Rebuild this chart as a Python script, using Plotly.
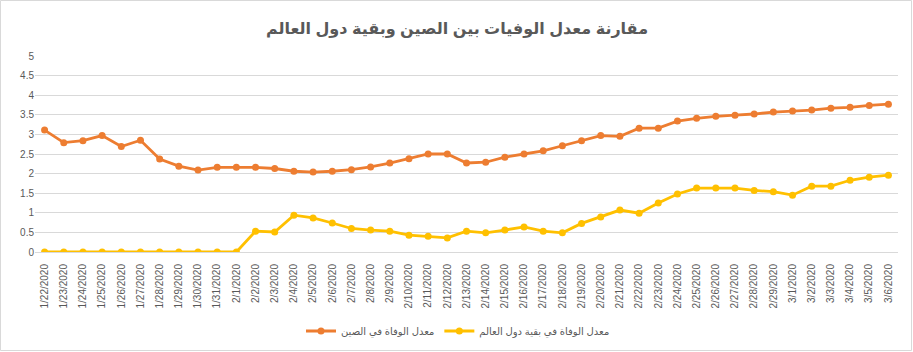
import plotly.graph_objects as go

dates = ["1/22/2020", "1/23/2020", "1/24/2020", "1/25/2020", "1/26/2020", "1/27/2020",
         "1/28/2020", "1/29/2020", "1/30/2020", "1/31/2020", "2/1/2020", "2/2/2020",
         "2/3/2020", "2/4/2020", "2/5/2020", "2/6/2020", "2/7/2020", "2/8/2020",
         "2/9/2020", "2/10/2020", "2/11/2020", "2/12/2020", "2/13/2020", "2/14/2020",
         "2/15/2020", "2/16/2020", "2/17/2020", "2/18/2020", "2/19/2020", "2/20/2020",
         "2/21/2020", "2/22/2020", "2/23/2020", "2/24/2020", "2/25/2020", "2/26/2020",
         "2/27/2020", "2/28/2020", "2/29/2020", "3/1/2020", "3/2/2020", "3/3/2020",
         "3/4/2020", "3/5/2020", "3/6/2020"]

china = [3.11, 2.79, 2.84, 2.97, 2.69, 2.85, 2.37, 2.19, 2.09, 2.16, 2.16, 2.16,
         2.13, 2.06, 2.04, 2.06, 2.10, 2.17, 2.27, 2.38, 2.50, 2.50, 2.27, 2.29,
         2.42, 2.50, 2.58, 2.71, 2.84, 2.97, 2.95, 3.16, 3.16, 3.34, 3.41, 3.46,
         3.49, 3.52, 3.57, 3.60, 3.62, 3.67, 3.69, 3.74, 3.77]

world = [0, 0, 0, 0, 0, 0, 0, 0, 0, 0, 0, 0.53,
         0.51, 0.94, 0.87, 0.74, 0.60, 0.56, 0.53, 0.43, 0.40, 0.36, 0.53, 0.49,
         0.56, 0.64, 0.53, 0.49, 0.73, 0.89, 1.07, 0.99, 1.25, 1.48, 1.63, 1.63,
         1.63, 1.57, 1.54, 1.45, 1.68, 1.68, 1.83, 1.91, 1.96]

name_china = "معدل الوفاة في الصين"
name_world = "معدل الوفاة في بقية دول العالم"
title = "مقارنة معدل الوفيات بين الصين وبقية دول العالم"

y_ticks = [0, 0.5, 1, 1.5, 2, 2.5, 3, 3.5, 4, 4.5, 5]

W, H = 913, 352
ML, MR, MT, MB = 35, 15, 56, 100
pw = W - ML - MR
ph = H - MT - MB

fig = go.Figure()
fig.add_trace(go.Scatter(x=dates, y=china, name=name_china, mode="lines+markers",
                         line=dict(color="#ED7D31", width=2.8),
                         marker=dict(color="#ED7D31", size=7)))
fig.add_trace(go.Scatter(x=dates, y=world, name=name_world, mode="lines+markers",
                         line=dict(color="#FFC000", width=2.8),
                         marker=dict(color="#FFC000", size=7)))

# chart-area border
fig.add_shape(type="rect", xref="paper", yref="paper",
              x0=(0.5 - ML) / pw, x1=(W - 1.5 - ML) / pw,
              y0=((H - MB) - (H - 1.5)) / ph, y1=((H - MB) - 0.5) / ph,
              line=dict(color="#D9D9D9", width=1), layer="below")

fig.update_layout(
    width=W, height=H,
    margin=dict(l=ML, r=MR, t=MT, b=MB, autoexpand=False),
    paper_bgcolor="white", plot_bgcolor="white",
    font=dict(family="Arial, DejaVu Sans", color="#595959", size=10),
    title=dict(text="<b>" + title + "</b>", x=457 / W, xanchor="center", xref="container",
               y=1 - 28 / H, yanchor="middle",
               font=dict(size=16, color="#595959", family="Arial, DejaVu Sans")),
    showlegend=True,
    legend=dict(orientation="h", x=(458 - ML) / pw, xanchor="center",
                y=-(331 - (H - MB)) / ph, yanchor="middle",
                font=dict(size=10, color="#595959"), itemwidth=30),
    xaxis=dict(type="category", range=[-0.5, len(dates) - 0.5], tickangle=-90,
               showgrid=False, showline=True, linecolor="#D9D9D9", linewidth=1,
               ticks="", ticklabelstandoff=7, automargin=False,
               tickfont=dict(size=10, color="#595959"), zeroline=False),
    yaxis=dict(range=[0, 5], tickvals=y_ticks, ticktext=[f"{v:g}" for v in y_ticks],
               showgrid=True, gridcolor="#D9D9D9", gridwidth=1, zeroline=False,
               showline=False, ticks="", automargin=False,
               tickfont=dict(size=10, color="#595959")),
)

fig.write_html("out.html")
